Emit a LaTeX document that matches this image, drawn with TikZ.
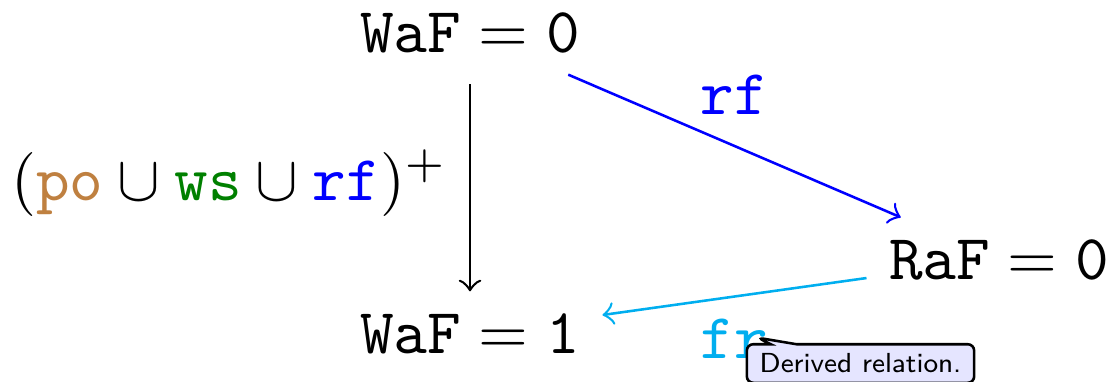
\documentclass[tikz,border=0pt]{standalone}
\usepackage{amsmath,amssymb}
\usetikzlibrary{calc,shapes.callouts}
\definecolor{pocol}{rgb}{0.75,0.5,0.25}
\definecolor{wscol}{rgb}{0,0.5,0}
\definecolor{rfcol}{rgb}{0,0,1}
\definecolor{frcol}{RGB}{0,174,239}

\begin{document}
\begin{tikzpicture}[x=0.15625pt, y=-0.15625pt,
	rel/.style={->, line width=0.4pt},
	tip/.style={rectangle callout, draw=black, fill=blue!10, rounded corners=1pt,
		inner xsep=2pt, inner ysep=1.5pt, callout pointer width=4pt,
		font=\fontsize{4.3}{5}\selectfont\sffamily}]
	\useasboundingbox (0,0) rectangle (1110,381);
	
	\node (wafzero) at (470, 32.5)  {$\mathtt{WaF} = \mathtt{0}$};
	\node (raf)     at (999, 259.5) {$\mathtt{RaF} = \mathtt{0}$};
	\node (wafone)  at (470, 333.5) {$\mathtt{WaF} = \mathtt{1}$};
	
	\draw[rel, shorten <=1.5pt] (wafzero) -- node[left] {$(\textcolor{pocol}{\mathtt{po}} \cup \textcolor{wscol}{\mathtt{ws}} \cup \textcolor{rfcol}{\mathtt{rf}})^{+}$} (wafone);
	\draw[rel, rfcol] (wafzero) -- node[above=1.4pt] {$\mathtt{rf}$} (raf);
	\draw[rel, frcol] (raf) -- node[below] (frlbl) {$\mathtt{fr}$} (wafone);
	
	\node[tip, callout absolute pointer={($(frlbl.center)+(23,-1)$)}] (frtip) at (860.5, 363.5) {Derived relation.};
\end{tikzpicture}
\end{document}
